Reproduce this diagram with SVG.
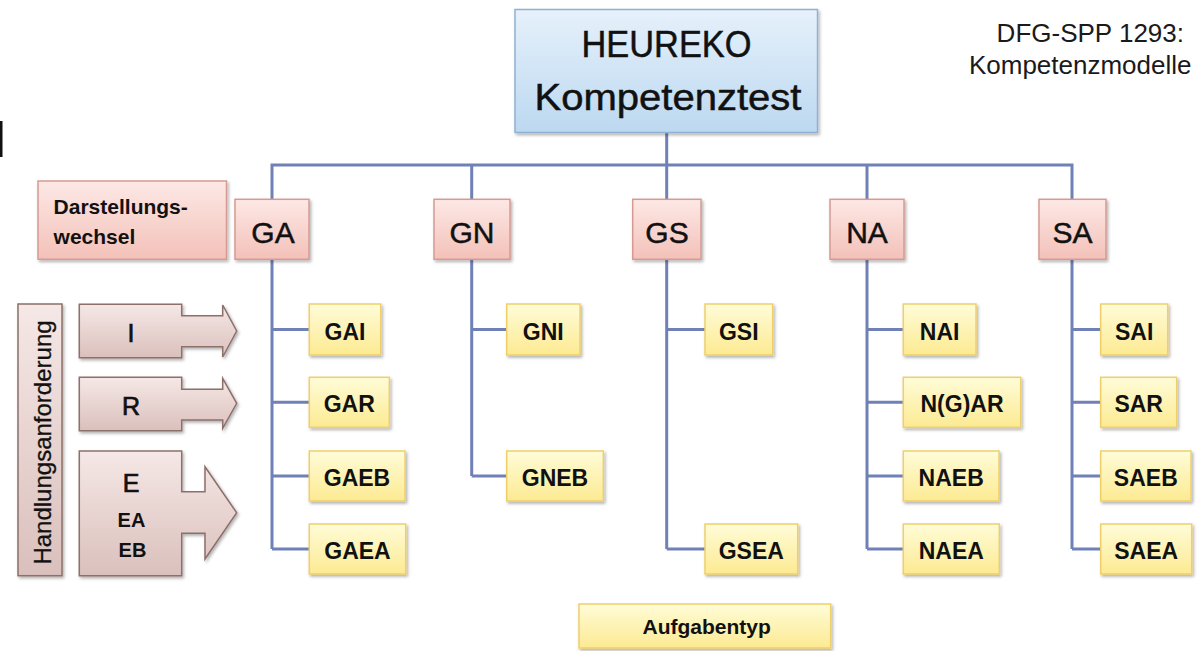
<svg xmlns="http://www.w3.org/2000/svg" width="1199" height="651" viewBox="0 0 1199 651">
<defs>
<linearGradient id="gBlue" x1="0" y1="0" x2="0" y2="1"><stop offset="0" stop-color="#e6f1fb"/><stop offset="1" stop-color="#bcd8f0"/></linearGradient>
<linearGradient id="gPink" x1="0" y1="0" x2="0" y2="1"><stop offset="0" stop-color="#fde8e5"/><stop offset="1" stop-color="#f3c1b9"/></linearGradient>
<linearGradient id="gYel" x1="0" y1="0" x2="0" y2="1"><stop offset="0" stop-color="#fffcd8"/><stop offset="1" stop-color="#fcea92"/></linearGradient>
<linearGradient id="gMauve" x1="0" y1="0" x2="0" y2="1"><stop offset="0" stop-color="#f5e8e6"/><stop offset="1" stop-color="#dac0bc"/></linearGradient>
<filter id="sh" x="-10%" y="-10%" width="130%" height="140%"><feDropShadow dx="1.5" dy="2" stdDeviation="1.5" flood-color="#000" flood-opacity="0.3"/></filter>
</defs>
<style>
.blue{fill:url(#gBlue);stroke:#90b1d1;stroke-width:1.5;filter:url(#sh)}
.pink{fill:url(#gPink);stroke:#d69a92;stroke-width:1.5;filter:url(#sh)}
.yel{fill:url(#gYel);stroke:#efcf6b;stroke-width:1.5;filter:url(#sh)}
.mauve{fill:url(#gMauve);stroke:#8d6f6a;stroke-width:1.5;filter:url(#sh)}
.con{fill:none;stroke:#6f81b6;stroke-width:3}
text{font-family:"Liberation Sans",Arial,sans-serif;fill:#111}
.big{font-size:37px;text-anchor:middle;stroke:#111;stroke-width:0.5}
.l2{font-size:30px;text-anchor:middle;stroke:#111;stroke-width:0.5}
.l3{font-size:23px;font-weight:bold;text-anchor:middle}
.note{font-size:26px;text-anchor:end;fill:#1a1a1a}
.arr{font-size:25px;text-anchor:middle;stroke:#111;stroke-width:0.7}
.arrb{font-size:20px;font-weight:bold;text-anchor:middle}
</style>
<rect x="0" y="121" width="2.5" height="36" fill="#111"/>
<g id="caption">
<text class="note" x="1184" y="42">DFG-SPP 1293:</text>
<text class="note" x="1191.5" y="74">Kompetenzmodelle</text>
</g>
<g id="connectors">
<path class="con" d="M666.7 132.7V199.3M272 199.3V165H1072V199.3M471.7 165V199.3M867 165V199.3"/>
<path class="con" d="M272 259.3V549M272 329.5H309.3M272 402.3H309.3M272 476H309.3M272 549H309.3"/>
<path class="con" d="M471.7 259.3V476M471.7 329.5H506.7M471.7 476H506.7"/>
<path class="con" d="M666.7 259.3V549M666.7 329.5H705M666.7 549H705"/>
<path class="con" d="M867 259.3V549M867 329.5H903.3M867 402.3H903.3M867 476H903.3M867 549H903.3"/>
<path class="con" d="M1072 259.3V549M1072 329.5H1100.7M1072 402.3H1100.7M1072 476H1100.7M1072 549H1100.7"/>
</g>
<g id="root">
<rect class="blue" x="515" y="9.5" width="302.5" height="123"/>
<text class="big" x="666.5" y="56.7" textLength="170" lengthAdjust="spacingAndGlyphs">HEUREKO</text>
<text class="big" x="668" y="110" textLength="267" lengthAdjust="spacingAndGlyphs">Kompetenztest</text>
</g>
<g id="darstellung">
<rect class="pink" x="38" y="181" width="188.5" height="78.3"/>
<text x="53.6" y="213.5" style="font-size:21px;font-weight:bold">Darstellungs-</text>
<text x="53.6" y="243.5" style="font-size:21px;font-weight:bold">wechsel</text>
</g>
<g id="GA"><rect class="pink" x="235" y="199.3" width="74" height="60"/><text class="l2" x="273" y="242.5">GA</text></g>
<g id="GN"><rect class="pink" x="434" y="199.3" width="76" height="60"/><text class="l2" x="472" y="242.5">GN</text></g>
<g id="GS"><rect class="pink" x="632.7" y="199.3" width="68.3" height="60"/><text class="l2" x="667" y="242.5">GS</text></g>
<g id="NA"><rect class="pink" x="830" y="199.3" width="74" height="60"/><text class="l2" x="867" y="242.5">NA</text></g>
<g id="SA"><rect class="pink" x="1039" y="199.3" width="67" height="60"/><text class="l2" x="1072.5" y="242.5">SA</text></g>
<g id="handlung">
<rect class="mauve" x="18" y="304" width="44" height="271.7"/>
<text transform="translate(50.7 442.5) rotate(-90)" style="font-size:24px;text-anchor:middle;stroke:#111;stroke-width:0.3">Handlungsanforderung</text>
</g>
<g id="arrowI">
<path class="mauve" d="M79.3 304.3H181.7V315.7H222.7V305L236.7 331L222.7 357V346.7H181.7V357.7H79.3Z"/>
<text class="arr" x="131" y="342">I</text>
</g>
<g id="arrowR">
<path class="mauve" d="M79.3 377.3H181.7V389.3H222.7V378.3L236.7 403.3L222.7 428.3V420H181.7V430.7H79.3Z"/>
<text class="arr" x="131" y="415">R</text>
</g>
<g id="arrowE">
<path class="mauve" d="M79.3 451H181.7V491.7H205V466.7L236.7 512.7L205 559V533.3H181.7V575.7H79.3Z"/>
<text class="arr" x="131" y="492">E</text>
<text class="arrb" x="131.5" y="526.7">EA</text>
<text class="arrb" x="132.5" y="557.3">EB</text>
</g>
<g id="GAI"><rect class="yel" x="309.3" y="304" width="71.4" height="51"/><text class="l3" x="345" y="339.5">GAI</text></g>
<g id="GAR"><rect class="yel" x="309.3" y="377.3" width="80" height="50"/><text class="l3" x="349.3" y="411.8">GAR</text></g>
<g id="GAEB"><rect class="yel" x="309.3" y="451" width="95.7" height="50"/><text class="l3" x="357" y="485.5">GAEB</text></g>
<g id="GAEA"><rect class="yel" x="309.3" y="524" width="96.4" height="50"/><text class="l3" x="357.5" y="558.5">GAEA</text></g>
<g id="GNI"><rect class="yel" x="506.7" y="304" width="73.3" height="51"/><text class="l3" x="543.3" y="339.5">GNI</text></g>
<g id="GNEB"><rect class="yel" x="506.7" y="451" width="96.6" height="50"/><text class="l3" x="555" y="485.5">GNEB</text></g>
<g id="GSI"><rect class="yel" x="705" y="304" width="67.7" height="51"/><text class="l3" x="738.8" y="339.5">GSI</text></g>
<g id="GSEA"><rect class="yel" x="705" y="524" width="92.7" height="50"/><text class="l3" x="751.3" y="558.5">GSEA</text></g>
<g id="NAI"><rect class="yel" x="903.3" y="304" width="72.7" height="51"/><text class="l3" x="939.6" y="339.5">NAI</text></g>
<g id="NGAR"><rect class="yel" x="903.3" y="377.3" width="117.4" height="50"/><text class="l3" x="962" y="411.8">N(G)AR</text></g>
<g id="NAEB"><rect class="yel" x="903.3" y="451" width="95.7" height="50"/><text class="l3" x="951.2" y="485.5">NAEB</text></g>
<g id="NAEA"><rect class="yel" x="903.3" y="524" width="96" height="50"/><text class="l3" x="951.3" y="558.5">NAEA</text></g>
<g id="SAI"><rect class="yel" x="1100.7" y="304" width="67" height="51"/><text class="l3" x="1134.2" y="339.5">SAI</text></g>
<g id="SAR"><rect class="yel" x="1100.7" y="377.3" width="76" height="50"/><text class="l3" x="1138.7" y="411.8">SAR</text></g>
<g id="SAEB"><rect class="yel" x="1100.7" y="451" width="90.3" height="50"/><text class="l3" x="1145.8" y="485.5">SAEB</text></g>
<g id="SAEA"><rect class="yel" x="1100.7" y="524" width="91" height="50"/><text class="l3" x="1146.2" y="558.5">SAEA</text></g>
<g id="aufgabentyp"><rect class="yel" x="579" y="604" width="251.7" height="44"/><text x="706.7" y="634" style="font-size:21px;font-weight:bold;text-anchor:middle">Aufgabentyp</text></g>
</svg>
